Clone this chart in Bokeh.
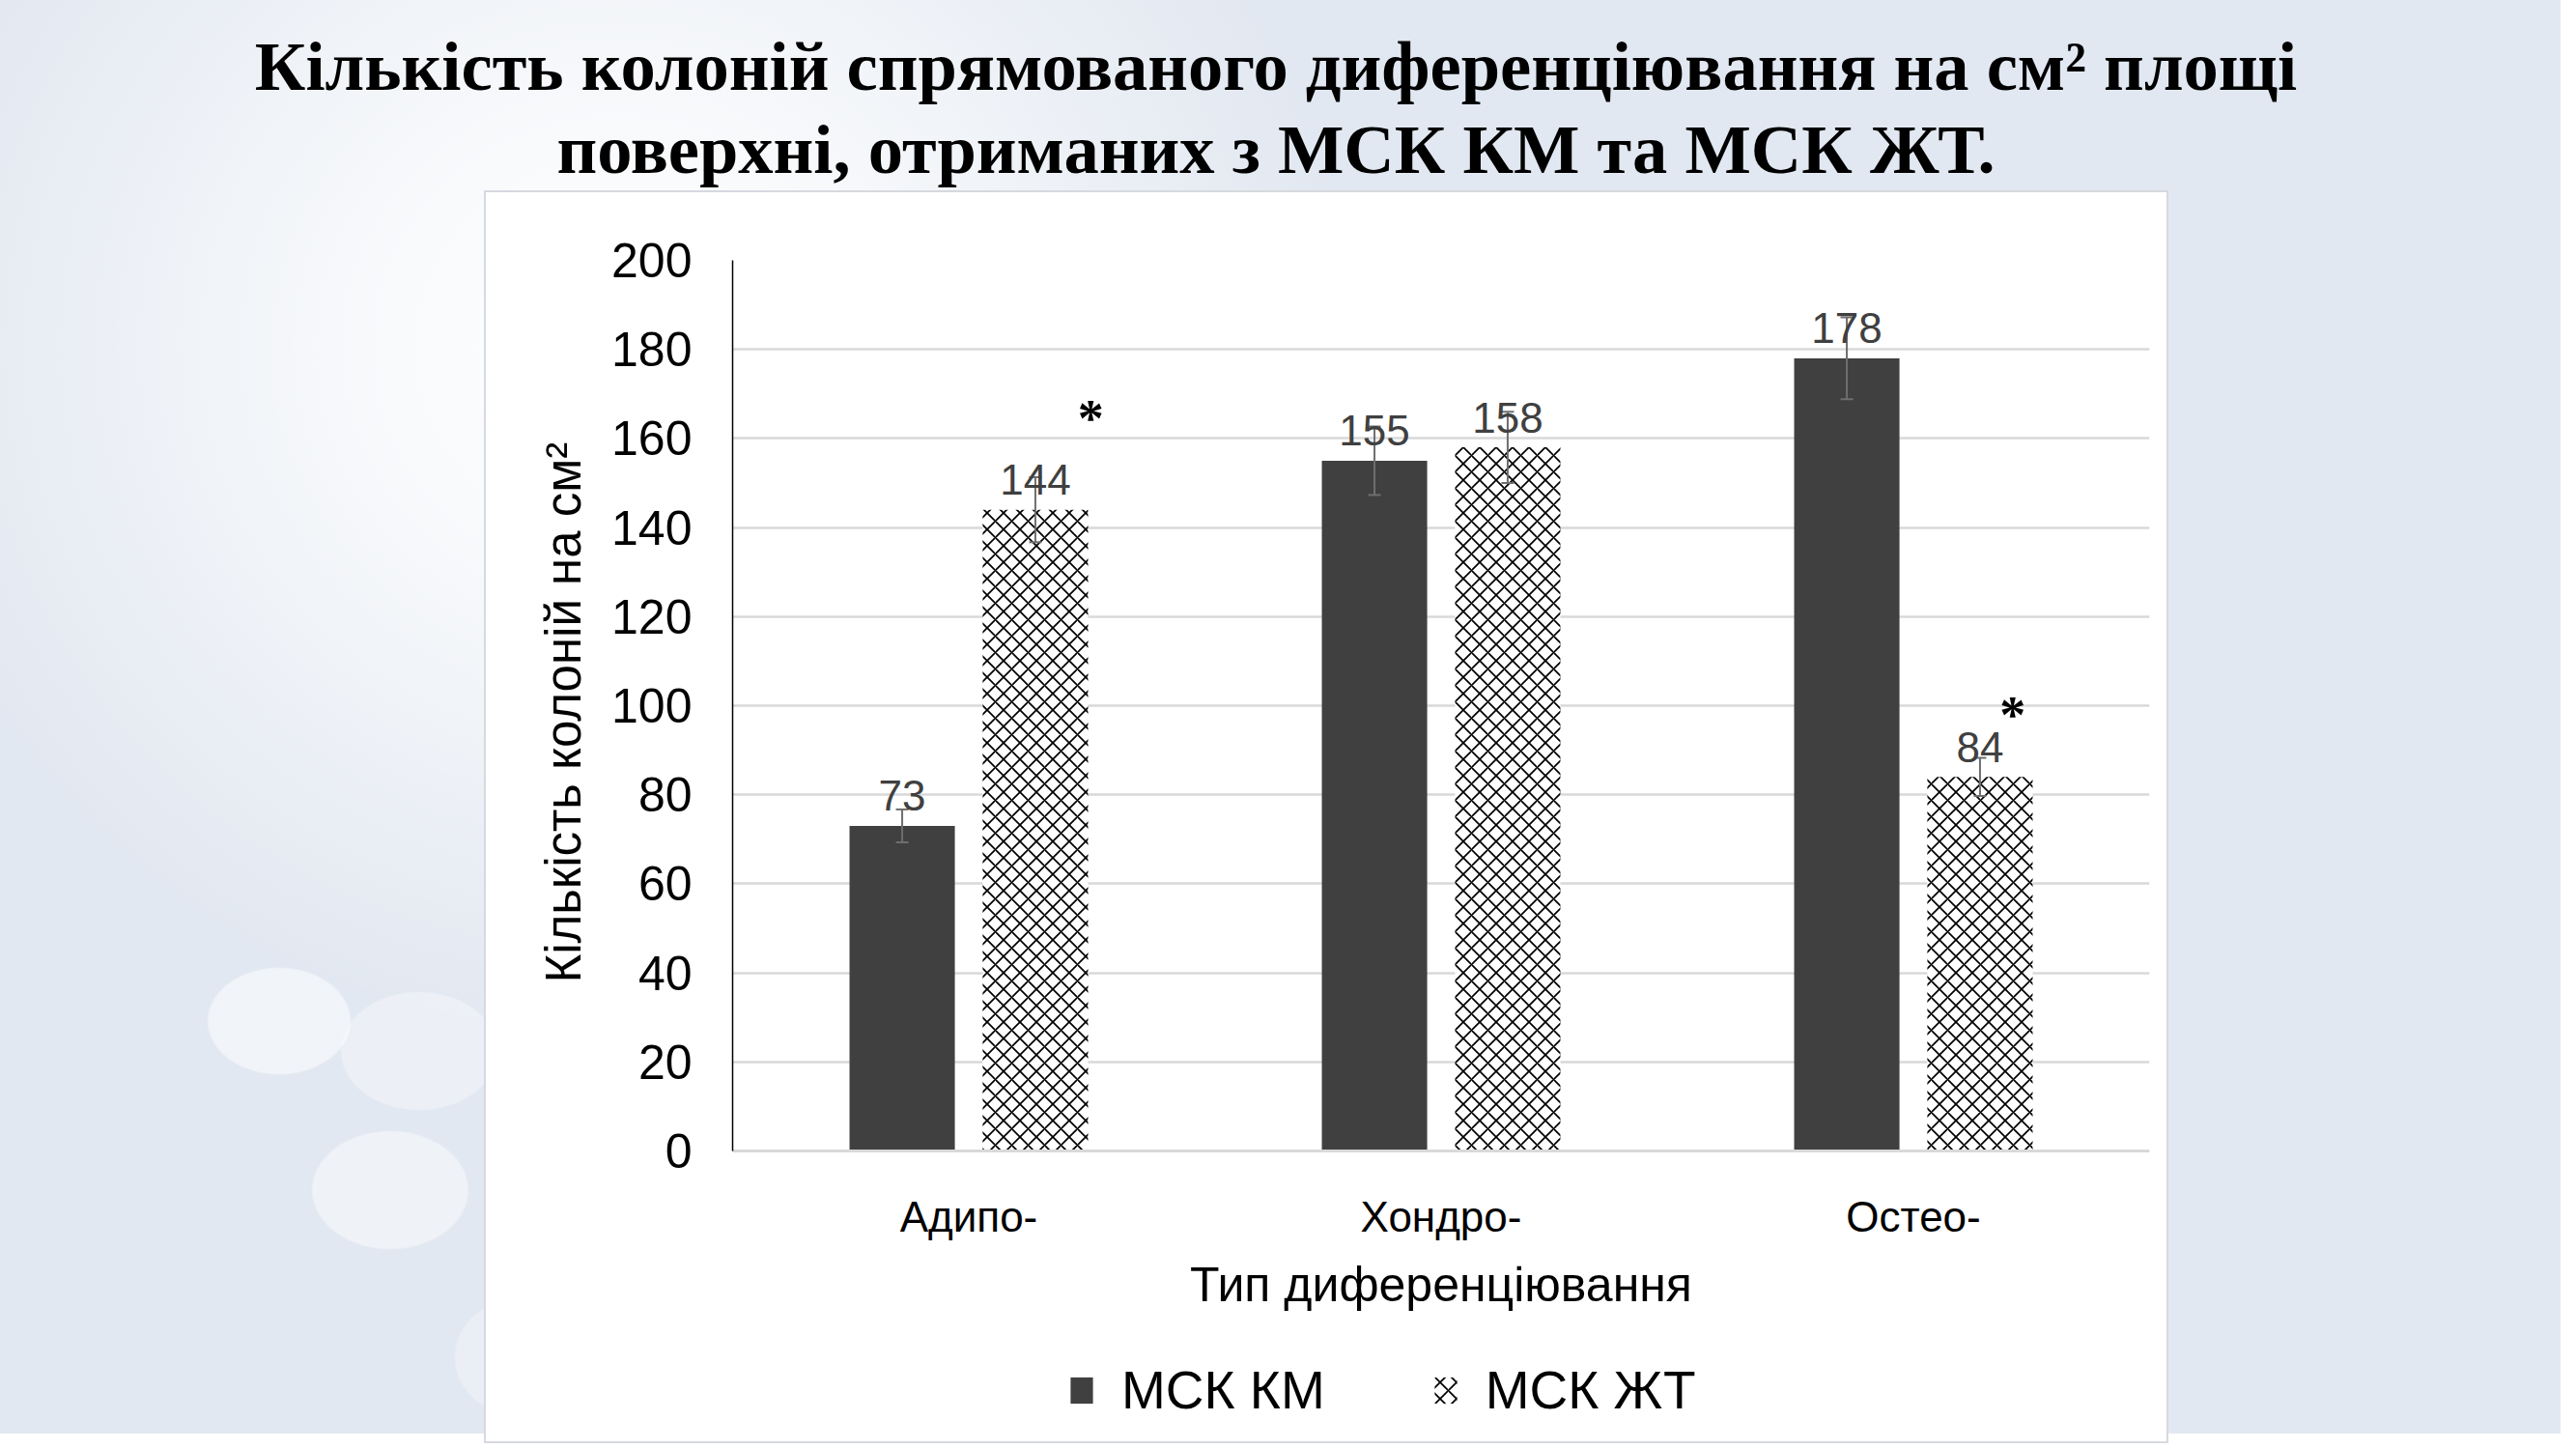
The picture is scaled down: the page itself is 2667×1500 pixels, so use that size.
from bokeh.plotting import figure
from bokeh.models import (ColumnDataSource, FactorRange, FixedTicker, Legend,
                          LegendItem, Div, Spacer)
from bokeh.layouts import column, row
from bokeh.transform import dodge
from bokeh.core.properties import value
from bokeh.embed import file_html
from bokeh.resources import INLINE

# ---------------- data ----------------
categories = ["Адипо-", "Хондро-", "Остео-"]
series_names = ["МСК КМ", "МСК ЖТ"]
km_values = [73, 155, 178]
km_errors = [3.7, 7.7, 9.2]
zht_values = [144, 158, 84]
zht_errors = [7.3, 8.0, 4.3]
y_ticks = [0, 20, 40, 60, 80, 100, 120, 140, 160, 180, 200]
star_categories = ["Адипо-", "Остео-"]
star_values = [164.5, 98.0]

title_line1 = "Кількість колоній спрямованого диференціювання на см² площі"
title_line2 = "поверхні, отриманих з МСК КМ та МСК ЖТ."
x_title = "Тип диференціювання"
y_title = "Кількість колоній на  см²"

# ---------------- sources ----------------
src = ColumnDataSource(dict(
    cat=categories,
    km=km_values,
    km_lo=[v - e for v, e in zip(km_values, km_errors)],
    km_hi=[v + e for v, e in zip(km_values, km_errors)],
    km_txt=[str(v) for v in km_values],
    zht=zht_values,
    zht_lo=[v - e for v, e in zip(zht_values, zht_errors)],
    zht_hi=[v + e for v, e in zip(zht_values, zht_errors)],
    zht_txt=[str(v) for v in zht_values],
))

SANS = "Liberation Sans"
DARK = "#404040"
BAR_OFF = 0.141
BAR_W = 0.223
HATCH = dict(fill_color="white", line_color=None, hatch_pattern="diagonal_cross",
             hatch_scale=17, hatch_weight=1.7, hatch_color="black")

p = figure(x_range=FactorRange(factors=categories, range_padding=0),
           y_range=(0, 200),
           width=1740, height=1195,
           output_backend="svg", toolbar_location=None,
           min_border_left=255, min_border_top=70,
           min_border_right=18, min_border_bottom=203,
           background_fill_color="white", border_fill_color="white",
           outline_line_color=None)

p.vbar(x=dodge("cat", -BAR_OFF, range=p.x_range), top="km", width=BAR_W,
       source=src, fill_color=DARK, line_color=None)
p.vbar(x=dodge("cat", BAR_OFF, range=p.x_range), top="zht", width=BAR_W,
       source=src, **HATCH)

# error bars
ERR = "#6e6e6e"
for off, lo, hi in [(-BAR_OFF, "km_lo", "km_hi"), (BAR_OFF, "zht_lo", "zht_hi")]:
    xx = dodge("cat", off, range=p.x_range)
    p.segment(x0=xx, x1=xx, y0=lo, y1=hi, source=src, line_color=ERR, line_width=2)
    p.scatter(x=xx, y=lo, source=src, marker="dash", size=13, line_color=ERR, line_width=2)
    p.scatter(x=xx, y=hi, source=src, marker="dash", size=13, line_color=ERR, line_width=2)

# data labels
for off, col, txt in [(-BAR_OFF, "km", "km_txt"), (BAR_OFF, "zht", "zht_txt")]:
    p.text(x=dodge("cat", off, range=p.x_range), y=col, text=txt, source=src,
           text_font=value(SANS), text_font_size="44px", text_color=DARK,
           text_align="center", text_baseline="alphabetic", y_offset=-31)

# significance asterisks
star_src_a = ColumnDataSource(dict(cat=star_categories[:1], y=star_values[:1], t=["*"]))
star_src_o = ColumnDataSource(dict(cat=star_categories[1:], y=star_values[1:], t=["*"]))
for s, off in [(star_src_a, 0.258), (star_src_o, 0.21)]:
    p.text(x=dodge("cat", off, range=p.x_range), y="y", text="t", source=s,
           text_font=value("Liberation Serif"), text_font_style="bold",
           text_font_size="54px", text_color="black",
           text_align="center", text_baseline="alphabetic")

# axes
p.yaxis.ticker = FixedTicker(ticks=y_ticks)
p.yaxis.major_label_text_font = SANS
p.yaxis.major_label_text_font_size = "50px"
p.yaxis.major_label_text_color = "black"
p.yaxis.major_tick_line_color = None
p.yaxis.major_tick_out = 0
p.yaxis.major_tick_in = 0
p.yaxis.minor_tick_line_color = None
p.yaxis.axis_line_color = "black"
p.yaxis.axis_line_width = 1.5
p.yaxis.major_label_standoff = 42
p.yaxis.axis_label = y_title
p.yaxis.axis_label_text_font = SANS
p.yaxis.axis_label_text_font_size = "51px"
p.yaxis.axis_label_text_font_style = "normal"
p.yaxis.axis_label_text_color = "black"
p.yaxis.axis_label_standoff = 18

p.xaxis.major_label_text_font = SANS
p.xaxis.major_label_text_font_size = "44px"
p.xaxis.major_label_text_color = "black"
p.xaxis.major_tick_line_color = None
p.xaxis.major_tick_out = 0
p.xaxis.major_tick_in = 0
p.xaxis.axis_line_color = "#d9d9d9"
p.xaxis.axis_line_width = 3
p.xaxis.major_label_standoff = 43
p.xaxis.axis_label = x_title
p.xaxis.axis_label_text_font = SANS
p.xaxis.axis_label_text_font_size = "50px"
p.xaxis.axis_label_text_font_style = "normal"
p.xaxis.axis_label_text_color = "black"
p.xaxis.axis_label_standoff = 15

p.xgrid.grid_line_color = None
p.ygrid.grid_line_color = "#d9d9d9"
p.ygrid.grid_line_width = 2.5

# ---------------- legend strip ----------------
pl = figure(width=1740, height=98, x_range=(0, 1), y_range=(0, 1),
            output_backend="svg", toolbar_location=None, min_border=0,
            background_fill_color="white", border_fill_color="white",
            outline_line_color=None)
pl.axis.visible = False
pl.grid.grid_line_color = None
offscreen = ColumnDataSource(dict(x=[-50], top=[-50]))
lk = pl.vbar(x="x", top="top", bottom=-60, width=0.1, source=offscreen,
             fill_color=DARK, line_color=None)
lz = pl.vbar(x="x", top="top", bottom=-60, width=0.1, source=offscreen, **HATCH)
legend = Legend(items=[LegendItem(label=series_names[0], renderers=[lk], index=0),
                       LegendItem(label=series_names[1], renderers=[lz], index=0)],
                orientation="horizontal", location=(347, 21),
                label_text_font=SANS, label_text_font_size="55px",
                label_text_color="black",
                glyph_width=29, glyph_height=34, label_standoff=27,
                spacing=110, padding=0, margin=0,
                border_line_color=None, background_fill_alpha=0)
pl.add_layout(legend, "center")

title = Div(
    text=('<div style="font-family:\'Liberation Serif\',serif;font-weight:bold;'
          'font-size:72.5px;line-height:86px;text-align:center;color:#000;'
          'width:2632px;padding-top:21px;">'
          + title_line1 + '<br>' + title_line2 + '</div>'),
    width=2651, height=189)

bg = ("radial-gradient(ellipse 75px 56px at 289px 1057px, rgba(255,255,255,0.5) 97%, rgba(255,255,255,0) 100%),"
      "radial-gradient(ellipse 82px 62px at 434px 1088px, rgba(255,255,255,0.35) 97%, rgba(255,255,255,0) 100%),"
      "radial-gradient(ellipse 82px 62px at 404px 1232px, rgba(255,255,255,0.45) 97%, rgba(255,255,255,0) 100%),"
      "radial-gradient(ellipse 70px 62px at 540px 1405px, rgba(255,255,255,0.3) 97%, rgba(255,255,255,0) 100%),"
      "radial-gradient(ellipse 760px 720px at 640px 360px, rgba(255,255,255,1) 0%, rgba(255,255,255,0.75) 35%, rgba(255,255,255,0) 100%),"
      "#e2e8f1")

panel = column(p, pl, width=1740, height=1293,
               styles={"box-shadow": "0 0 0 2px #d6d9de", "background": "white"})
layout = column(title,
                row(Spacer(width=503, height=1293), panel, Spacer(width=408, height=1293)),
                styles={"background": bg}, width=2651, height=1484)

open("out.html", "w").write(file_html(layout, INLINE))
